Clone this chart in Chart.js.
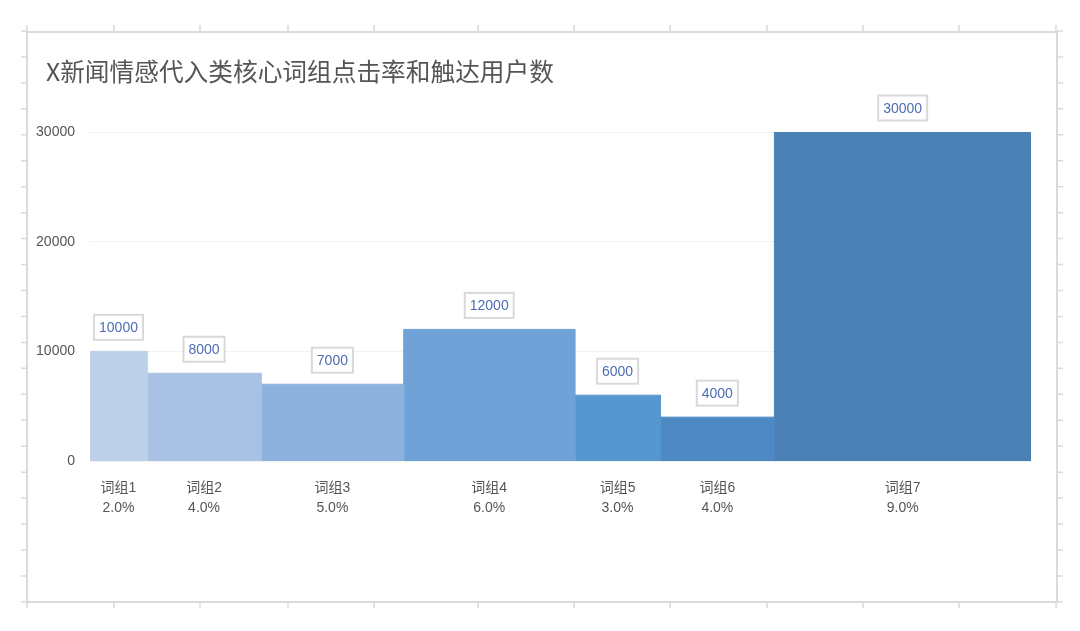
<!DOCTYPE html>
<html>
<head>
<meta charset="utf-8">
<script src="https://cdn.jsdelivr.net/npm/chart.js@4.4.1/dist/chart.umd.min.js"></script>
<style>
html,body{margin:0;padding:0;background:#ffffff;}
#wrap{width:1080px;height:631px;position:relative;}
</style>
</head>
<body>
<div id="wrap"><canvas id="c" width="1080" height="631"></canvas></div>
<script>
const title = 'X新闻情感代入类核心词组点击率和触达用户数';
const categories = ['词组1','词组2','词组3','词组4','词组5','词组6','词组7'];
const clickRates = [2.0, 4.0, 5.0, 6.0, 3.0, 4.0, 9.0];
const users = [10000, 8000, 7000, 12000, 6000, 4000, 30000];
const yTicks = [0, 10000, 20000, 30000];
const colors = ['#bdd0ea','#a8c1e4','#8db2dd','#6fa3d7','#5697cf','#4e89c3','#4a80b3'];

const FONT = '"Liberation Sans", "Noto Sans CJK SC", sans-serif';
const TFONT = '"Noto Sans CJK SC", sans-serif';

// cumulative x ranges from click rates
const starts = [];
let acc = 0;
clickRates.forEach(r => { starts.push(acc); acc += r; });
const totalRate = acc;

const datasets = categories.map((c, i) => {
  const x0 = starts[i], x1 = starts[i] + clickRates[i], v = users[i];
  return {
    label: c,
    data: [{x:x0,y:0},{x:x0,y:v},{x:x1,y:v},{x:x1,y:0}],
    backgroundColor: colors[i],
    borderColor: colors[i],
    borderWidth: 1,
    pointRadius: 0,
    tension: 0,
    fill: 'origin'
  };
});

const decor = {
  id: 'decor',
  beforeDraw(chart) {
    const ctx = chart.ctx;
    ctx.save();
    ctx.fillStyle = '#ffffff';
    ctx.fillRect(0, 0, chart.width, chart.height);
    // frame
    const L = 27, T = 32, R = 1057, B = 602;
    ctx.strokeStyle = '#dadade';
    ctx.lineWidth = 2;
    ctx.strokeRect(L, T, R - L, B - T);
    ctx.lineWidth = 1.5;
    const xt = [27,114,200,288,374,478,574,670,767,863,959,1056];
    ctx.beginPath();
    xt.forEach(x => {
      ctx.moveTo(x, T); ctx.lineTo(x, T - 7);
      ctx.moveTo(x, B); ctx.lineTo(x, B + 6);
    });
    for (let k = 0; k <= 22; k++) {
      const y = 31 + 25.95 * k;
      ctx.moveTo(L, y); ctx.lineTo(L - 6, y);
      ctx.moveTo(R, y); ctx.lineTo(R + 6, y);
    }
    ctx.stroke();
    // title
    ctx.fillStyle = '#555555';
    ctx.font = '24.7px ' + TFONT;
    ctx.textAlign = 'left';
    ctx.textBaseline = 'middle';
    ctx.fillText(title, 46, 72);
    ctx.restore();
  },
  afterDatasetsDraw(chart) {
    const ctx = chart.ctx;
    const xs = chart.scales.x, ys = chart.scales.y;
    ctx.save();
    categories.forEach((c, i) => {
      const cx = xs.getPixelForValue(starts[i] + clickRates[i] / 2);
      const top = ys.getPixelForValue(users[i]);
      // value box
      ctx.font = '14px ' + FONT;
      const txt = String(users[i]);
      const w = ctx.measureText(txt).width + 10;
      const h = 25;
      const cy = top - 24;
      ctx.fillStyle = '#ffffff';
      ctx.fillRect(cx - w / 2, cy - h / 2, w, h);
      ctx.strokeStyle = '#d9d9d9';
      ctx.lineWidth = 2;
      ctx.strokeRect(cx - w / 2, cy - h / 2, w, h);
      ctx.fillStyle = '#4c6db2';
      ctx.textAlign = 'center';
      ctx.textBaseline = 'middle';
      ctx.fillText(txt, cx, cy + 1);
      // category labels
      const base = ys.getPixelForValue(0);
      ctx.fillStyle = '#555555';
      ctx.font = '14px ' + FONT;
      ctx.fillText(c, cx, base + 27);
      ctx.fillText(clickRates[i].toFixed(1) + '%', cx, base + 47);
    });
    ctx.restore();
  }
};

new Chart(document.getElementById('c'), {
  type: 'line',
  data: { datasets },
  options: {
    responsive: false,
    animation: false,
    devicePixelRatio: 1,
    layout: { padding: { left: 0, right: 49, top: 132, bottom: 170 } },
    plugins: { legend: { display: false }, tooltip: { enabled: false } },
    scales: {
      x: {
        type: 'linear', min: 0, max: totalRate, display: false
      },
      y: {
        type: 'linear', min: 0, max: 30000,
        afterFit(scale) { scale.width = 90; },
        afterBuildTicks(scale) { scale.ticks = yTicks.map(v => ({ value: v })); },
        border: { display: false },
        grid: { color: 'rgba(0,0,0,0.05)', drawTicks: false, lineWidth: 1 },
        ticks: {
          padding: 15,
          color: '#555555',
          font: { size: 14, family: FONT },
          callback: v => String(v)
        }
      }
    }
  },
  plugins: [decor]
});
</script>
</body>
</html>
